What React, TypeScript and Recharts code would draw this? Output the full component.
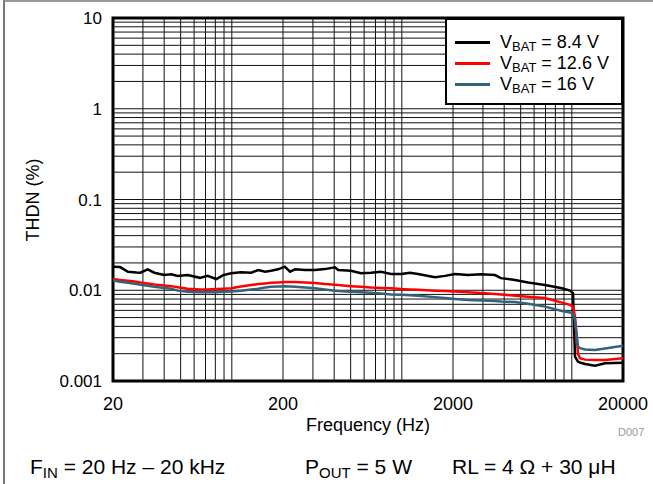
import {
  LineChart,
  Line,
  XAxis,
  YAxis,
  Legend,
  ReferenceArea,
  ReferenceLine,
} from 'recharts';

// frequency points (Hz) read along the x axis
const freq = [
  20, 22, 24.5, 27.5, 29, 32, 35, 40, 44, 48,
  55, 65, 72, 81, 89, 99, 113, 130, 143, 157,
  170, 187, 205, 220, 235, 270, 308, 353, 404, 422,
  502, 575, 659, 754, 863, 989, 1117, 1245, 1567, 1796,
  2056, 2450, 2924, 3531, 3829, 4634, 5522, 6951, 8750, 9751,
  10160, 10440, 10870, 11160, 11950, 13680, 15680, 20000,
];

// THDN (%) per supply voltage
const vbat84 = [
  0.0182, 0.018, 0.016, 0.0157, 0.0156, 0.017, 0.0156, 0.0147, 0.015, 0.0144,
  0.0147, 0.0137, 0.0144, 0.0133, 0.0147, 0.0154, 0.0158, 0.0156, 0.0167, 0.016,
  0.0164, 0.017, 0.0182, 0.016, 0.017, 0.0167, 0.0167, 0.0171, 0.0179, 0.0167,
  0.0164, 0.0154, 0.0156, 0.016, 0.0151, 0.0151, 0.0156, 0.0151, 0.0139, 0.0144,
  0.0151, 0.0147, 0.015, 0.0147, 0.0136, 0.013, 0.0122, 0.0114, 0.0105, 0.0099,
  0.0093, 0.00185, 0.00163, 0.0016, 0.00154, 0.00147, 0.00157, 0.00159,
];
const vbat126 = [
  0.0133, 0.013, 0.0127, 0.0124, 0.0122, 0.0119, 0.0116, 0.0113, 0.0111, 0.0108,
  0.0104, 0.0102, 0.0102, 0.0103, 0.0104, 0.0105, 0.011, 0.0114, 0.0117, 0.0119,
  0.0121, 0.0122, 0.0123, 0.0123, 0.0123, 0.0122, 0.012, 0.0117, 0.0115, 0.0114,
  0.0111, 0.0109, 0.0107, 0.0106, 0.0105, 0.0103, 0.0102, 0.0101, 0.0099, 0.0098,
  0.0097, 0.0095, 0.0093, 0.0091, 0.009, 0.0087, 0.0085, 0.0082, 0.0073, 0.0069,
  0.0066, 0.0051, 0.002, 0.00178, 0.00172, 0.0017, 0.0017, 0.00178,
];
const vbat16 = [
  0.0128, 0.0124, 0.0121, 0.0117, 0.0115, 0.0112, 0.0109, 0.0106, 0.0104, 0.0099,
  0.0096, 0.0095, 0.0095, 0.0095, 0.0096, 0.0097, 0.0099, 0.0102, 0.0104, 0.0107,
  0.0109, 0.011, 0.0111, 0.011, 0.0109, 0.0107, 0.0105, 0.0102, 0.0099, 0.0098,
  0.0096, 0.0095, 0.0094, 0.0092, 0.009, 0.0089, 0.0088, 0.0087, 0.0084, 0.0082,
  0.008, 0.0078, 0.0077, 0.0076, 0.0075, 0.0074, 0.0071, 0.0066, 0.0059, 0.0057,
  0.0055, 0.0047, 0.0024, 0.0023, 0.00222, 0.0022, 0.00228, 0.00245,
];

const xTicks = [20, 200, 2000, 20000];
const yTicks = [0.001, 0.01, 0.1, 1, 10];
const xDecades = [10, 100, 1000, 10000];
const yDecades = [0.001, 0.01, 0.1, 1];
const steps = [1, 2, 3, 4, 5, 6, 7, 8, 9];

// minor log grid, 1..9 per decade
const xGrid = xDecades
  .flatMap((d) => steps.map((s) => +(d * s).toPrecision(3)))
  .filter((v) => v > 20 && v < 20000);
const yGrid = yDecades
  .flatMap((d) => steps.map((s) => +(d * s).toPrecision(3)))
  .filter((v) => v > 0.001 && v < 10);

const series = [
  { key: 'v84', label: '8.4 V', color: '#000000' },
  { key: 'v126', label: '12.6 V', color: '#ff0000' },
  { key: 'v16', label: '16 V', color: '#33627a' },
];

const data = freq.map((f, i) => ({
  f,
  v84: vbat84[i],
  v126: vbat126[i],
  v16: vbat16[i],
}));

const font = '"Liberation Sans", Arial, Helvetica, sans-serif';

function LegendBox() {
  return (
    <div
      style={{
        boxSizing: 'border-box',
        width: 178,
        height: 87,
        border: '2px solid #000',
        background: '#fff',
        padding: '12px 0 0 8px',
        fontFamily: font,
        fontSize: 18,
        color: '#000',
      }}
    >
      {series.map((s) => (
        <div key={s.key} style={{ display: 'flex', alignItems: 'center', height: 21 }}>
          <span style={{ display: 'inline-block', width: 35, height: 3, background: s.color, marginRight: 10 }} />
          <span style={{ whiteSpace: 'nowrap' }}>
            V<sub style={{ fontSize: 13, verticalAlign: '-3px' }}>BAT</sub> = {s.label}
          </span>
        </div>
      ))}
    </div>
  );
}

export default function App() {
  return (
    <div style={{ position: 'absolute', left: 0, top: 0, width: 653, height: 484, background: '#fff', fontFamily: font }}>
      <div style={{ position: 'absolute', left: 3, top: 0, width: 650, height: 484, borderLeft: '2px solid #777', borderTop: '2px solid #999' }} />
      <LineChart width={653} height={484} data={data} margin={{ top: 18, right: 30, bottom: 73, left: 13 }}>
        <XAxis
          dataKey="f"
          type="number"
          scale="log"
          domain={[20, 20000]}
          ticks={xTicks}
          allowDataOverflow
          axisLine={false}
          tickLine={false}
          tickSize={0}
          tickMargin={16}
          height={30}
          tick={{ fontSize: 18, fill: '#000', fontFamily: font }}
        />
        <YAxis
          type="number"
          scale="log"
          domain={[0.001, 10]}
          ticks={yTicks}
          allowDataOverflow
          axisLine={false}
          tickLine={false}
          tickSize={0}
          tickMargin={11}
          width={100}
          tick={{ fontSize: 17, fill: '#000', fontFamily: font }}
        />
        {xGrid.map((v) => (
          <ReferenceLine key={`x${v}`} x={v} stroke="#111" strokeWidth={1} />
        ))}
        {yGrid.map((v) => (
          <ReferenceLine key={`y${v}`} y={v} stroke="#111" strokeWidth={1} />
        ))}
        {series.map((s) => (
          <Line
            key={s.key}
            dataKey={s.key}
            type="linear"
            stroke={s.color}
            strokeWidth={2.5}
            dot={false}
            isAnimationActive={false}
          />
        ))}
        <ReferenceArea x1={20} x2={20000} y1={0.001} y2={10} fill="none" stroke="#000" strokeWidth={3} />
        <Legend
          layout="vertical"
          align="center"
          verticalAlign="middle"
          content={<LegendBox />}
          wrapperStyle={{ position: 'absolute', left: 445, top: 18, width: 178, height: 87 }}
        />
      </LineChart>
      <div style={{ position: 'absolute', left: 33, top: 200, transform: 'translate(-50%, -50%) rotate(-90deg)', fontSize: 18, whiteSpace: 'nowrap' }}>
        THDN (%)
      </div>
      <div style={{ position: 'absolute', left: 368, top: 425, transform: 'translate(-50%, -50%)', fontSize: 18, whiteSpace: 'nowrap' }}>
        Frequency (Hz)
      </div>
      <div style={{ position: 'absolute', left: 618, top: 426, fontSize: 11, color: '#999' }}>D007</div>
      <div style={{ position: 'absolute', left: 30, top: 455, fontSize: 21, lineHeight: '24px', whiteSpace: 'nowrap' }}>
        F<sub style={{ fontSize: 15, verticalAlign: '-4px' }}>IN</sub> = 20 Hz – 20 kHz
      </div>
      <div style={{ position: 'absolute', left: 305, top: 455, fontSize: 21, lineHeight: '24px', whiteSpace: 'nowrap' }}>
        P<sub style={{ fontSize: 15, verticalAlign: '-4px' }}>OUT</sub> = 5 W
      </div>
      <div style={{ position: 'absolute', left: 452, top: 455, fontSize: 21, lineHeight: '24px', whiteSpace: 'nowrap' }}>
        RL = 4 Ω + 30 μH
      </div>
    </div>
  );
}
